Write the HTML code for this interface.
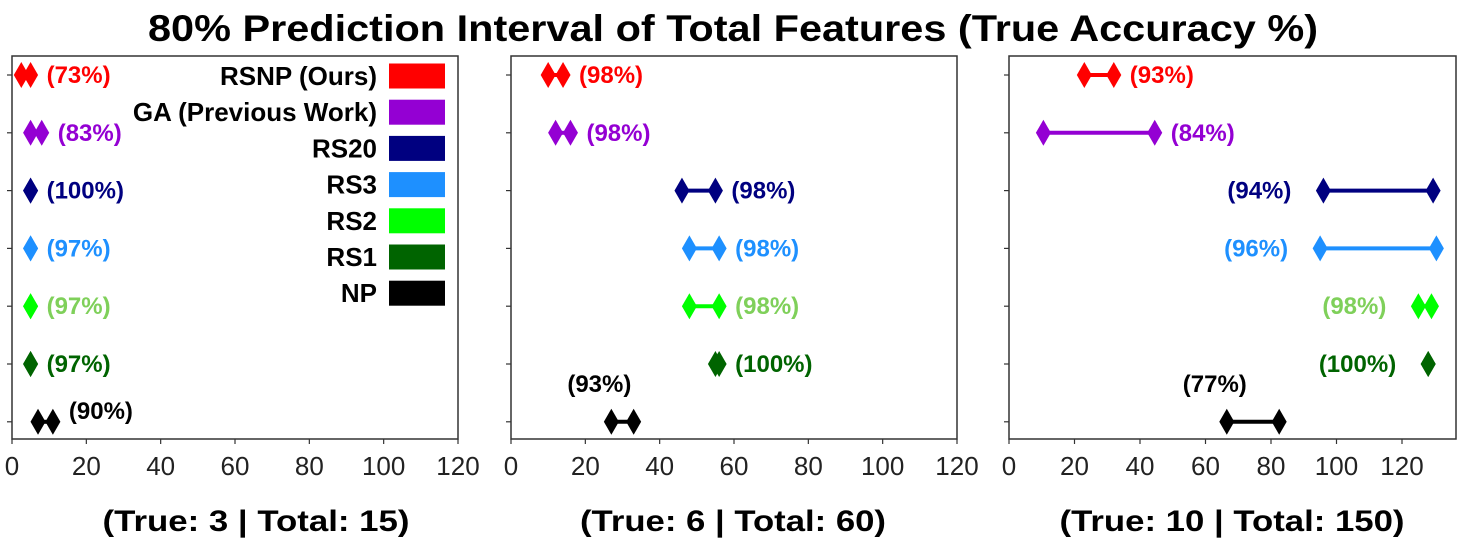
<!DOCTYPE html>
<html><head><meta charset="utf-8"><style>
html,body{margin:0;padding:0;background:#fff;}
svg{display:block;font-family:"Liberation Sans",Arial,sans-serif;}
</style></head><body>
<svg id="chart" width="1466" height="548" viewBox="0 0 1466 548">
<text x="733" y="41" text-anchor="middle" font-size="37" font-weight="bold" fill="#000" textLength="1170" lengthAdjust="spacingAndGlyphs">80% Prediction Interval of Total Features (True Accuracy %)</text>
</svg>
<script>
const series = ["RSNP (Ours)","GA (Previous Work)","RS20","RS3","RS2","RS1","NP"];
const colors = ["#ff0000","#9400d3","#000080","#1e90ff","#00ff00","#006400","#000000"];
const labelColors = ["#ff0000","#9400d3","#000080","#1e90ff","#7fd05a","#006400","#000000"];
const subtitles = ["(True: 3 | Total: 15)","(True: 6 | Total: 60)","(True: 10 | Total: 150)"];
const xTicks = [0,20,40,60,80,100,120];
const lo1 = [2.5,5,5,5,5,5,7];
const hi1 = [5,8,5,5,5,5,11];
const acc1 = ["73%","83%","100%","97%","97%","97%","90%"];
const side1 = ["r","r","r","r","r","r","r"];
const lo2 = [10,12,46,48,48,55,27];
const hi2 = [14,16,55,56,56,56,33];
const acc2 = ["98%","98%","98%","98%","98%","100%","93%"];
const side2 = ["r","r","r","r","r","r","t"];
const lo3 = [23,10.5,96,95,125,128,66.5];
const hi3 = [32,44.5,129.5,130.5,129,128,82.5];
const acc3 = ["93%","84%","94%","96%","98%","100%","77%"];
const side3 = ["r","r","l","l","l","l","t"];

const panels = [
 {x0:12, x1:458, t120:458, sx:256, sw:307, lo:lo1, hi:hi1, acc:acc1, side:side1},
 {x0:511, x1:957, t120:957, sx:733, sw:306, lo:lo2, hi:hi2, acc:acc2, side:side2},
 {x0:1009, x1:1456, t120:1402, sx:1232, sw:345, lo:lo3, hi:hi3, acc:acc3, side:side3}
];
const axTop=56, axBottom=439, rowY0=75, rowStep=57.8;
const NS="http://www.w3.org/2000/svg";
const svg=document.getElementById('chart');
function mk(tag, attrs, parent){const e=document.createElementNS(NS,tag);for(const k in attrs)e.setAttribute(k,attrs[k]);(parent||svg).appendChild(e);return e;}

panels.forEach((p,pi)=>{
  const g=mk('g',{});
  
  
  const tickPx = (p.t120-p.x0)/120;
  const xs = v => p.x0 + v*tickPx;
  const ys = i => rowY0 + i*rowStep;
  const frame=mk('rect',{x:p.x0,y:axTop,width:p.x1-p.x0,height:axBottom-axTop,fill:'none',stroke:'#333','stroke-width':1.5},g);
  
  
  xTicks.forEach(t=>{
    mk('line',{x1:xs(t),x2:xs(t),y1:axBottom,y2:axBottom+5,stroke:'#333','stroke-width':1.2},g);
    const tl=mk('text',{x:xs(t),y:axBottom+36,'text-anchor':'middle','font-size':26,fill:'#222'},g);
    tl.textContent=t;
    
    
  });
  series.forEach((s,i)=>{
    const y=ys(i);
    mk('line',{x1:p.x0-5,x2:p.x0,y1:y,y2:y,stroke:'#333','stroke-width':1.2},g);
    const sg=mk('g',{},g);
    
    
    const a=xs(p.lo[i]), b=xs(p.hi[i]);
    mk('line',{x1:a,x2:b,y1:y,y2:y,stroke:colors[i],'stroke-width':4},sg);
    [a,b].forEach(cx=>{
      const d=mk('polygon',{points:`${cx},${y-13} ${cx+7.5},${y} ${cx},${y+13} ${cx-7.5},${y}`,fill:colors[i]},sg);
      
      
    });
    let lx,ly=y+8,anchor='start';
    if(p.side[i]==='r'){lx=b+16; if(i===6){ly=y-3;}}
    else if(p.side[i]==='l'){lx=a-32;anchor='end';}
    else {lx=a-12;ly=y-30;anchor='middle';}
    const lt=mk('text',{x:lx,y:ly,'text-anchor':anchor,'font-size':24,'font-weight':'bold',fill:labelColors[i]},sg);
    lt.textContent='('+p.acc[i]+')';
    
    
  });
  const st=mk('text',{x:p.sx,y:531,'text-anchor':'middle','font-size':30,'font-weight':'bold',fill:'#000',textLength:p.sw,lengthAdjust:'spacingAndGlyphs'},g);
  st.textContent=subtitles[pi];
  
  
});

const lg=mk('g',{});


series.forEach((s,i)=>{
  const y=76+i*36.2;
  const sw=mk('rect',{x:389,y:y-12.5,width:56,height:25,fill:colors[i]},lg);
  
  
  const t=mk('text',{x:377,y:y+9,'text-anchor':'end','font-size':26,'font-weight':'bold',fill:'#000'},lg);
  t.textContent=s;
  
  
});
</script>
</body></html>
